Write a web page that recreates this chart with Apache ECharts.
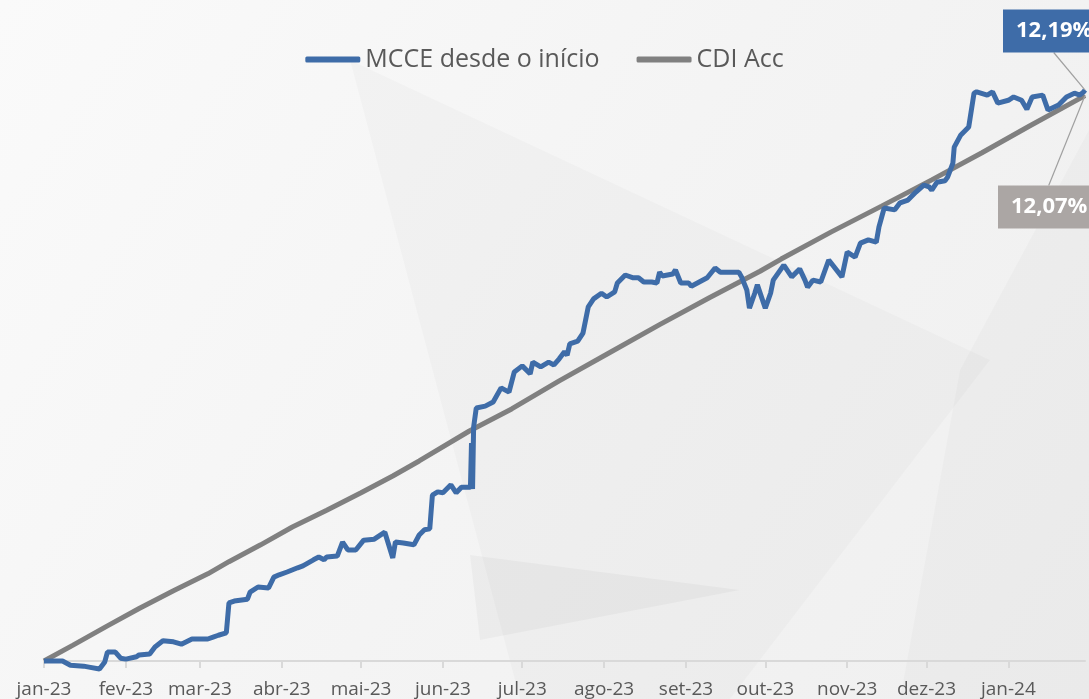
<!DOCTYPE html>
<html>
<head>
<meta charset="utf-8">
<script src="https://cdn.jsdelivr.net/npm/echarts@6/dist/echarts.min.js"></script>
<style>
  html, body { margin: 0; padding: 0; }
  #main { width: 1089px; height: 699px; }
</style>
</head>
<body>
<div id="main"></div>
<script>
// dias desde 01/01/2023 onde começa cada mês
const monthStarts = [0, 31, 59, 90, 120, 151, 181, 212, 243, 273, 304, 334, 365]
const monthLabels = ['jan-23', 'fev-23', 'mar-23', 'abr-23', 'mai-23', 'jun-23', 'jul-23', 'ago-23', 'set-23', 'out-23', 'nov-23', 'dez-23', 'jan-24']

// MCCE desde o início (% acumulado)
const mcceDays = [0, 1, 7, 10, 15, 17, 21, 23, 24, 27, 29, 31, 35, 36, 40, 42, 45, 49, 52, 56, 62, 64, 66, 69, 70, 72, 77, 78, 81, 85, 87, 89, 92, 96,
  98, 102, 104, 106, 107, 111, 113, 115, 118, 121, 125, 129, 132, 133, 136, 140, 142, 144, 146, 147, 149, 151, 154, 156, 158, 161.4, 161.8, 162.2, 162.6, 163.6,
  167, 170, 173, 176, 178, 181, 184, 185, 188, 191, 193, 195, 197, 198, 199, 202, 204, 206, 208, 211, 213, 216, 217, 220, 223, 225, 227, 230, 232, 233, 234,
  238, 239, 241, 244, 245, 248, 251, 254, 256, 260, 263, 264, 266, 267, 269, 270, 273, 275, 276, 280, 283, 286, 288, 289, 291, 294, 297, 302, 304, 307,
  309, 312, 315, 316, 318, 322, 324, 327, 330, 333, 335, 336, 338, 341, 342, 344, 344.5, 347, 350, 352, 353, 357, 359, 361, 365, 367, 370, 372, 374, 378,
  380, 384, 387, 390, 392, 393.5, 394]
const mcceValues = [0, 0, 0, -0.09, -0.11, -0.13, -0.17, -0.02, 0.19, 0.19, 0.06, 0.04, 0.09, 0.13, 0.15, 0.30, 0.43, 0.41, 0.36, 0.47, 0.47, 0.51, 0.55, 0.60, 1.24, 1.28, 1.32, 1.47, 1.58, 1.56, 1.79, 1.84, 1.90, 1.99,
  2.03, 2.16, 2.22, 2.16, 2.22, 2.24, 2.54, 2.37, 2.37, 2.58, 2.60, 2.75, 2.20, 2.54, 2.52, 2.48, 2.69, 2.80, 2.82, 3.54, 3.61, 3.59, 3.76, 3.59, 3.71, 3.71, 4.65, 3.67, 4.99, 5.40,
  5.44, 5.53, 5.83, 5.74, 6.17, 6.30, 6.13, 6.38, 6.28, 6.38, 6.32, 6.45, 6.60, 6.53, 6.77, 6.83, 7.00, 7.56, 7.73, 7.85, 7.77, 7.88, 8.07, 8.24, 8.18, 8.18, 8.09, 8.09, 8.07, 8.30, 8.22,
  8.26, 8.35, 8.07, 8.07, 8.00, 8.09, 8.18, 8.39, 8.30, 8.30, 8.30, 8.20, 7.92, 7.53, 7.85, 8.03, 7.53, 7.85, 8.13, 8.45, 8.20, 8.37, 8.13, 7.98, 8.13, 8.09, 8.56, 8.20, 8.73, 8.62,
  8.92, 8.99, 8.94, 9.26, 9.67, 9.63, 9.78, 9.84, 10.01, 10.16, 10.12, 10.05, 10.22, 10.25, 10.33, 10.63, 10.97, 11.23, 11.40, 12.12, 12.15, 12.08, 12.15, 11.91, 11.97, 12.04, 11.97, 11.78, 12.04, 12.08,
  11.76, 11.87, 12.04, 12.12, 12.08, 12.15, 12.19]

// CDI acumulado (%)
const cdiDays = [0, 11, 24, 36, 49, 62, 70, 82, 94, 107, 120, 132, 142, 161, 177, 195, 214, 233, 252, 271, 279, 298, 317, 336, 355, 373, 394]
const cdiValues = [0, 0.34, 0.75, 1.12, 1.50, 1.86, 2.12, 2.48, 2.86, 3.22, 3.59, 3.95, 4.27, 4.91, 5.38, 5.98, 6.58, 7.18, 7.76, 8.32, 8.58, 9.16, 9.71, 10.27, 10.85, 11.42, 12.07]

const blue = '#3E6CA8'
const gray = '#808080'
const font = 'Open Sans'

function fmtPct (v) {
  return v.toFixed(2).replace('.', ',') + '%'
}

function buildSeries (days, values, boxColor) {
  let data = []
  for (let i = 0; i < days.length; i++) {
    data.push([days[i], values[i]])
  }
  let last = data.length - 1
  data[last] = {
    value: data[last],
    symbol: 'circle',
    symbolSize: 1,
    label: {
      show: true,
      formatter: (p) => fmtPct(p.value[1]),
      color: '#fff',
      fontFamily: font,
      fontWeight: 'bold',
      fontSize: 22,
      backgroundColor: boxColor,
      padding: [11, 12, 10, 13]
    }
  }
  return data
}

let myChart = echarts.init(document.getElementById('main'))
let options = {
  backgroundColor: {
    type: 'linear', x: 0, y: 0, x2: 1, y2: 1,
    colorStops: [
      { offset: 0, color: '#fafafa' },
      { offset: 0.5, color: '#f4f4f4' },
      { offset: 1, color: '#efefef' }
    ]
  },
  animation: false,
  graphic: [
    { type: 'polygon', z: -10, shape: { points: [[350, 60], [990, 360], [730, 699], [520, 699]] }, style: { fill: 'rgba(0,0,0,0.018)' } },
    { type: 'polygon', z: -10, shape: { points: [[470, 555], [740, 590], [480, 640]] }, style: { fill: 'rgba(0,0,0,0.03)' } },
    { type: 'polygon', z: -10, shape: { points: [[960, 370], [1089, 130], [1089, 699], [900, 699]] }, style: { fill: 'rgba(0,0,0,0.018)' } }
  ],
  legend: {
    top: 42,
    left: 'center',
    itemWidth: 55,
    itemHeight: 6,
    itemGap: 37,
    icon: 'roundRect',
    textStyle: { fontFamily: font, fontSize: 25, color: '#595959' },
    data: ['MCCE desde o início', 'CDI Acc']
  },
  grid: { left: 44, right: 4, top: 52, bottom: 38, outerBoundsMode: 'none', containLabel: false },
  xAxis: {
    type: 'value',
    min: 0,
    max: 394,
    splitLine: { show: false },
    axisLine: { onZero: false, lineStyle: { color: '#d9d9d9', width: 2 } },
    axisTick: { show: true, customValues: monthStarts, length: 7, lineStyle: { color: '#d9d9d9', width: 2 } },
    axisLabel: {
      customValues: monthStarts,
      margin: 19,
      color: '#595959',
      fontFamily: font,
      fontSize: 19,
      formatter: (v) => monthLabels[monthStarts.indexOf(v)]
    }
  },
  yAxis: {
    type: 'value',
    min: 0,
    max: 13,
    show: false,
    splitLine: { show: false }
  },
  series: [
    {
      name: 'CDI Acc',
      type: 'line',
      symbol: 'none',
      clip: false,
      z: 2,
      color: gray,
      lineStyle: { color: gray, width: 5 },
      data: buildSeries(cdiDays, cdiValues, '#ABA6A4'),
      labelLayout: { x: 998, y: 207, align: 'left', verticalAlign: 'middle' },
      labelLine: { show: true, lineStyle: { color: '#a0a0a0', width: 1.2 } }
    },
    {
      name: 'MCCE desde o início',
      type: 'line',
      symbol: 'none',
      clip: false,
      z: 3,
      color: blue,
      lineStyle: { color: blue, width: 5 },
      data: buildSeries(mcceDays, mcceValues, blue),
      labelLayout: { x: 1003, y: 31, align: 'left', verticalAlign: 'middle' },
      labelLine: { show: true, lineStyle: { color: '#a0a0a0', width: 1.2 } }
    }
  ]
}
myChart.setOption(options)
</script>
</body>
</html>
